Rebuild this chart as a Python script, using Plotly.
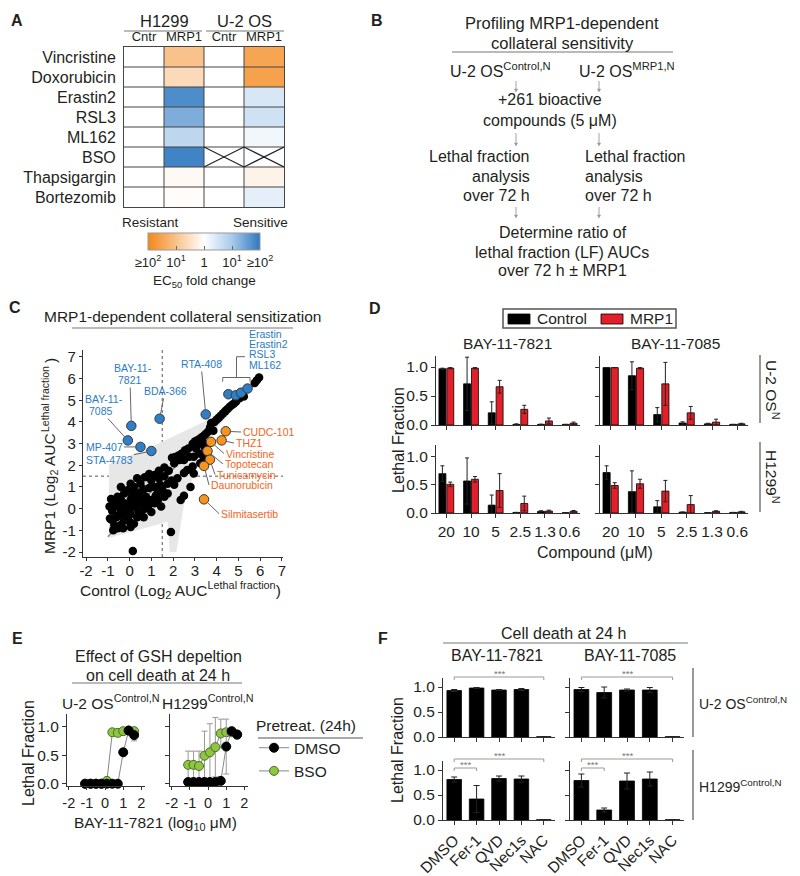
import plotly.graph_objects as go

W, H = 800, 876
FONT = "Liberation Sans, Arial, Helvetica, sans-serif"
INK = "#231f20"
AXC = "#333333"
BLUE_TXT = "#2b7bc4"
ORANGE_TXT = "#f26522"
BLUE_DOT = "#2f7fc8"
ORANGE_DOT = "#f7941d"
GREEN_DOT = "#8dc63f"
RED_BAR = "#e3202a"

# ===================== DATA =====================
# ---- Panel A : EC50 fold change (log10, negative = resistant, positive = sensitive)
a_drugs = ["Vincristine", "Doxorubicin", "Erastin2", "RSL3", "ML162", "BSO", "Thapsigargin", "Bortezomib"]
a_cols = ["Cntr", "MRP1", "Cntr", "MRP1"]
a_lines = ["H1299", "U-2 OS"]
a_h1299_cntr = [0, 0, 0, 0, 0, 0, 0, 0]
a_h1299_mrp1 = [-1.0, -0.6, 1.75, 1.35, 0.75, 1.85, -0.1, -0.05]
a_u2os_cntr = [0, 0, 0, 0, 0, None, 0, 0]
a_u2os_mrp1 = [-1.5, -1.55, 0.45, 0.55, 0.15, None, -0.2, 0.3]
a_cb_vals = [-2, -1, 0, 1, 2]
a_cb_text = ["≥10<sup>2</sup>", "10<sup>1</sup>", "1", "10<sup>1</sup>", "≥10<sup>2</sup>"]

# ---- Panel C : log2 AUC (control vs MRP1)
c_bg_ctrl = [5.95, 5.85, 5.75, 5.25, 5.05, 4.9, 4.8, 4.7, 4.6, 4.5, 4.4, 4.3, 4.2, 4.1, 4.0, 3.9, 3.75, 3.7,
             3.85, 3.6, 3.5, 3.4, 3.3, 3.2, 3.1, 3.0, 2.9, 3.2, 3.35, 3.45, 3.05, 2.7, 2.55, 2.4, 2.25, 2.1,
             1.95, 2.05, 2.3, 2.5, 2.75, 2.95, 3.2, 3.4, 3.25, 2.9, 2.65, 2.95, 2.5, 2.8, 2.5, 2.35, 1.9, 0.15,
             2.2, 2.05, 1.93,
             1.6, 1.8, 1.6, 1.35, 1.35, 1.15, 1.0, 0.9, 0.7, 0.5, 0.35, 0.2, 0.05, -0.1, -0.25, -0.4, -0.55,
             -0.7, -0.85, -0.92, -0.8, -0.6, -0.85, -0.7, -0.55, -0.4, -0.25, -0.1, 0.05, 0.2, 0.35, 0.5, 0.65,
             0.85, 1.0, 1.15, 1.3, 1.45, 1.6, 1.75, 1.0, 0.75, 0.6, 0.35, 0.2, 0.05, -0.1, -0.25, -0.4, -0.55,
             -0.4, 0.2, 0.45, 0.65, 0.9, 1.15, 1.3, 1.5, 1.75, -0.25, 0.05, -0.1, 0.3, 0.5, 0.8, 0.1, -0.5,
             0.4, 0.7, 1.2, 1.4, -0.7, 0.0, -0.3, -0.9, -0.75]
c_bg_mrp1 = [6.05, 5.92, 5.8, 5.18, 5.1, 4.95, 4.85, 4.78, 4.7, 4.6, 4.5, 4.4, 4.3, 4.2, 4.1, 4.0, 3.95, 3.75,
             3.6, 3.55, 3.45, 3.35, 3.28, 3.2, 3.15, 3.1, 3.0, 3.0, 3.08, 2.85, 2.78, 2.78, 2.7, 2.55, 2.45, 2.38,
             2.35, 2.1, 2.25, 2.25, 2.4, 2.4, 2.55, 2.4, 2.1, 1.95, 1.78, 1.62, 1.65, 1.0, 0.6, 0.4, -1.08, -1.95,
             1.4, 1.1, 1.3,
             1.5, 1.75, 1.9, 1.75, 1.4, 1.55, 1.3, 1.6, 1.45, 1.15, 1.4, 1.0, 1.15, 0.85, 0.7, 1.0, 0.55,
             0.4, 0.45, 0.1, -0.1, -0.4, -0.5, -0.75, -0.9, -0.75, -0.55, -0.4, -0.25, -0.7, -0.4, -0.15, -0.4,
             0.1, -0.15, 0.25, 0.4, 0.1, 0.55, 0.7, 0.4, 0.55, 0.25, 0.4, 0.1, 0.4, 0.1, 0.25, -0.1, 0.1,
             0.4, 0.7, 0.75, 0.9, 0.95, 1.0, 0.75, 0.9, 1.15, -0.25, -0.85, -0.1, 0.15, 0.5, 0.3, 0.55, -0.3,
             -0.1, 0.0, 0.6, 1.1, 0.15, -0.6, -0.9, -0.45, -1.0]
c_hit_names = ["BAY-11-7821", "BAY-11-7085", "MP-407", "STA-4783", "BDA-366", "RTA-408", "Erastin",
               "Erastin2", "RSL3", "ML162", "CUDC-101", "THZ1", "Vincristine", "Topotecan", "Tunicamycin",
               "Daunorubicin", "Silmitasertib"]
c_hit_ctrl = [0.08, -0.08, 0.5, 1.0, 1.38, 3.5, 4.54, 4.88, 5.12, 5.42, 4.42, 4.23, 3.74, 3.58, 3.69, 3.42, 3.42]
c_hit_mrp1 = [3.82, 3.15, 2.85, 2.66, 4.15, 4.35, 5.28, 5.23, 5.35, 5.54, 3.57, 3.15, 3.08, 2.66, 2.26, 1.97, 0.43]
c_hit_kind = ["sens", "sens", "sens", "sens", "sens", "sens", "sens", "sens", "sens", "sens",
              "res", "res", "res", "res", "res", "res", "res"]
c_band_x = [-0.95, -0.95, 1.3, 3.4, 4.5, 5.8, 5.8, 4.0, 3.1, 2.5, 2.15, 1.85, 1.75, -0.95]
c_band_y = [-1.35, 2.05, 3.0, 4.0, 4.7, 5.9, 5.7, 3.7, 2.0, 0.2, -2.0, -2.0, -0.6, -1.35]
c_fit_x = [-1.0, 6.0]
c_fit_y = [-1.3, 6.0]
c_cut = 1.5
c_ticks = [-2, -1, 0, 1, 2, 3, 4, 5, 6, 7]
c_ticktext = ["-2", "-1", "0", "1", "2", "3", "4", "5", "6", "7"]

# ---- Panel D : lethal fraction vs compound dose
d_doses = ["20", "10", "5", "2.5", "1.3", "0.6"]
d_u2os_7821_ctrl = [0.97, 0.71, 0.21, 0.01, 0.01, 0.01]
d_u2os_7821_ctrl_err = [0.01, 0.46, 0.19, 0.01, 0.005, 0.0]
d_u2os_7821_mrp1 = [0.98, 0.98, 0.66, 0.27, 0.07, 0.03]
d_u2os_7821_mrp1_err = [0.01, 0.01, 0.11, 0.07, 0.05, 0.02]
d_u2os_7085_ctrl = [0.99, 0.85, 0.18, 0.035, 0.02, 0.01]
d_u2os_7085_ctrl_err = [0.0, 0.24, 0.12, 0.02, 0.01, 0.0]
d_u2os_7085_mrp1 = [0.99, 0.98, 0.71, 0.21, 0.05, 0.02]
d_u2os_7085_mrp1_err = [0.0, 0.01, 0.37, 0.11, 0.05, 0.01]
d_h1299_7821_ctrl = [0.70, 0.57, 0.14, 0.01, 0.03, 0.005]
d_h1299_7821_ctrl_err = [0.14, 0.41, 0.18, 0.0, 0.01, 0.0]
d_h1299_7821_mrp1 = [0.51, 0.60, 0.40, 0.17, 0.035, 0.03]
d_h1299_7821_mrp1_err = [0.04, 0.05, 0.30, 0.13, 0.015, 0.015]
d_h1299_7085_ctrl = [0.72, 0.38, 0.11, 0.015, 0.005, 0.01]
d_h1299_7085_ctrl_err = [0.12, 0.37, 0.11, 0.0, 0.0, 0.0]
d_h1299_7085_mrp1 = [0.49, 0.52, 0.39, 0.15, 0.03, 0.02]
d_h1299_7085_mrp1_err = [0.05, 0.08, 0.19, 0.16, 0.01, 0.01]
d_series = ["Control", "MRP1"]

# ---- Panel E : GSH depletion dose response
e_log_dose = [-1.1, -0.8, -0.5, -0.2, 0.1, 0.4, 0.7, 1.0, 1.3, 1.6]
e_u2os_dmso = [0.0, 0.0, 0.0, 0.0, 0.0, 0.0, 0.0, 0.55, 0.93, 0.85]
e_u2os_dmso_err = [0.0, 0.0, 0.0, 0.0, 0.0, 0.0, 0.0, 0.02, 0.03, 0.10]
e_u2os_bso = [0.0, 0.0, 0.0, 0.0, 0.05, 0.90, 0.89, 0.92, 0.93, 0.92]
e_u2os_bso_err = [0.0, 0.0, 0.0, 0.0, 0.02, 0.02, 0.02, 0.03, 0.04, 0.05]
e_h1299_dmso = [0.03, 0.03, 0.03, 0.03, 0.03, 0.03, 0.05, 0.65, 0.92, 0.86]
e_h1299_dmso_err = [0.01, 0.01, 0.01, 0.01, 0.01, 0.01, 0.02, 0.48, 0.05, 0.07]
e_h1299_bso = [0.33, 0.33, 0.31, 0.49, 0.55, 0.64, 0.88, 0.90, 0.90, 0.86]
e_h1299_bso_err = [0.24, 0.24, 0.26, 0.43, 0.50, 0.52, 0.25, 0.06, 0.05, 0.07]
e_ticks = [-2, -1, 0, 1, 2]
e_ticktext = ["-2", "-1", "0", "1", "2"]

# ---- Panel F : cell death at 24 h with inhibitors
f_treat = ["DMSO", "Fer-1", "QVD", "Nec1s", "NAC"]
f_u2os_7821 = [0.93, 0.98, 0.94, 0.95, 0.005]
f_u2os_7821_err = [0.02, 0.01, 0.01, 0.02, 0.0]
f_u2os_7085 = [0.95, 0.89, 0.94, 0.94, 0.005]
f_u2os_7085_err = [0.04, 0.11, 0.02, 0.05, 0.0]
f_h1299_7821 = [0.81, 0.42, 0.83, 0.82, 0.005]
f_h1299_7821_err = [0.05, 0.27, 0.05, 0.06, 0.0]
f_h1299_7085 = [0.79, 0.20, 0.78, 0.82, 0.005]
f_h1299_7085_err = [0.13, 0.04, 0.16, 0.14, 0.0]


# ===================== HELPERS =====================
def PX(x):
    return x / W


def PY(y):
    return 1 - y / H


def DX(a, b):
    return [a / W, b / W]


def DY(top, bot):
    return [1 - bot / H, 1 - top / H]


def lin_axis(domain, rng, anchor, **kw):
    d = dict(domain=domain, range=rng, anchor=anchor, showline=True, linecolor=AXC, linewidth=1.2,
             ticks="outside", ticklen=4, tickwidth=1.2, tickcolor=AXC, showgrid=False, zeroline=False,
             automargin=False, tickangle=0, tickfont=dict(size=15.5, color=INK, family=FONT), fixedrange=True)
    d.update(kw)
    return d


annotations = []
shapes = []


def text(x, y, s, size=15.5, color=INK, xanchor="center", yanchor="middle", angle=0):
    annotations.append(dict(x=PX(x), y=PY(y), xref="paper", yref="paper", text=s, showarrow=False,
                            font=dict(size=size, color=color, family=FONT), xanchor=xanchor,
                            yanchor=yanchor, textangle=angle))


def pline(x0, y0, x1, y1, color="#666666", width=1.2, dash="solid"):
    shapes.append(dict(type="line", xref="paper", yref="paper", x0=PX(x0), y0=PY(y0), x1=PX(x1), y1=PY(y1),
                       line=dict(color=color, width=width, dash=dash)))


def prect(x0, y0, x1, y1, fill, color="#000", width=0.8):
    shapes.append(dict(type="rect", xref="paper", yref="paper", x0=PX(x0), y0=PY(y1), x1=PX(x1), y1=PY(y0),
                       fillcolor=fill, line=dict(color=color, width=width)))


def down_arrow(x, y0, y1):
    pline(x, y0, x, y1 - 2, "#999", 0.9)
    shapes.append(dict(type="path", xref="paper", yref="paper",
                       path="M {a},{b} L {c},{b} L {d},{e} Z".format(a=PX(x - 1.6), b=PY(y1 - 3), c=PX(x + 1.6),
                                                                   d=PX(x), e=PY(y1)),
                       fillcolor="#999", line=dict(color="#999", width=0.5)))


fig = go.Figure()
layout_axes = {}

# ===================== PANEL A =====================
a_z = [[a_h1299_cntr[i], a_h1299_mrp1[i], a_u2os_cntr[i], a_u2os_mrp1[i]] for i in range(len(a_drugs))]
a_cs = [[0, "#f3871a"], [0.25, "#f9c28b"], [0.5, "#ffffff"], [0.75, "#a8caea"], [1, "#2f78bf"]]
fig.add_trace(go.Heatmap(
    z=a_z, x=list(range(len(a_cols))), y=list(range(len(a_drugs))), colorscale=a_cs, zmin=-2, zmax=2,
    hoverongaps=False, xaxis="x", yaxis="y",
    colorbar=dict(orientation="h", x=PX(204), xanchor="center", y=PY(233), yanchor="top",
                  lenmode="pixels", len=112, thicknessmode="pixels", thickness=17, xpad=0, ypad=0,
                  tickvals=a_cb_vals, ticktext=a_cb_text, ticks="inside", ticklen=4, tickcolor="#666",
                  outlinecolor="#999", outlinewidth=1, tickfont=dict(size=13, color=INK, family=FONT))))
layout_axes["xaxis"] = dict(domain=DX(124, 284), range=[-0.5, 3.5], side="top", tickvals=list(range(4)),
                            ticktext=a_cols, ticks="", showline=True, mirror=True, linecolor="#444",
                            linewidth=1, showgrid=False, zeroline=False, anchor="y", fixedrange=True,
                            automargin=False, ticklabelstandoff=0, tickfont=dict(size=13, color=INK, family=FONT))
layout_axes["yaxis"] = dict(domain=DY(47, 207), range=[7.5, -0.5], tickvals=list(range(8)), ticktext=a_drugs,
                            ticks="", showline=True, mirror=True, linecolor="#444", linewidth=1,
                            showgrid=False, zeroline=False, anchor="x", fixedrange=True, automargin=False,
                            ticklabelstandoff=4, tickfont=dict(size=16, color=INK, family=FONT))
for k in [0.5, 1.5, 2.5]:
    shapes.append(dict(type="line", xref="x", yref="y", x0=k, x1=k, y0=-0.5, y1=7.5,
                       line=dict(color="#444", width=1)))
for k in [0.5, 1.5, 2.5, 3.5, 4.5, 5.5, 6.5]:
    shapes.append(dict(type="line", xref="x", yref="y", x0=-0.5, x1=3.5, y0=k, y1=k,
                       line=dict(color="#444", width=1)))
bso_row = a_drugs.index("BSO")
for col in [2, 3]:
    shapes.append(dict(type="line", xref="x", yref="y", x0=col - 0.5, x1=col + 0.5, y0=bso_row - 0.5,
                       y1=bso_row + 0.5, line=dict(color="#222", width=1.2)))
    shapes.append(dict(type="line", xref="x", yref="y", x0=col - 0.5, x1=col + 0.5, y0=bso_row + 0.5,
                       y1=bso_row - 0.5, line=dict(color="#222", width=1.2)))
text(164, 21, a_lines[0], 16.5)
text(244, 21, a_lines[1], 16.5)
pline(124, 31, 202, 31, "#777")
pline(206, 31, 284, 31, "#777")
text(150, 223, "Resistant", 13.5)
text(260, 223, "Sensitive", 13.5)
text(204, 281, "EC<sub>50</sub> fold change", 13.5)

# ===================== PANEL B =====================
text(562, 23, "Profiling MRP1-dependent", 16.5)
text(562, 43, "collateral sensitivity", 16.5)
pline(452, 52, 673, 52, "#777")
text(500, 70, "U-2 OS<sup>Control,N</sup>", 16)
text(627, 70, "U-2 OS<sup>MRP1,N</sup>", 16)
down_arrow(516, 81, 92)
down_arrow(599, 81, 92)
text(550, 100, "+261 bioactive", 16)
text(550, 120, "compounds (5 μM)", 16)
down_arrow(516, 133, 146)
down_arrow(599, 133, 146)
for i, s in enumerate(["Lethal fraction", "analysis", "over 72 h"]):
    text(532, 157 + i * 19.5, s, 16, xanchor="right")
    text(583, 157 + i * 19.5, s, 16, xanchor="left")
down_arrow(516, 207, 218)
down_arrow(599, 207, 218)
text(563, 232, "Determine ratio of", 16)
text(562, 252, "lethal fraction (LF) AUCs", 16)
text(562, 271, "over 72 h ± MRP1", 16)

# ===================== PANEL C =====================
C_PX = (83, 283)
C_PY = (350, 557)
C_XR = [-2.14, 7.05]
C_YR = [-2.23, 7.32]


def cx(px):
    return C_XR[0] + (px - C_PX[0]) / (C_PX[1] - C_PX[0]) * (C_XR[1] - C_XR[0])


def cy(py):
    return C_YR[0] + (C_PY[1] - py) / (C_PY[1] - C_PY[0]) * (C_YR[1] - C_YR[0])


fig.add_trace(go.Scatter(x=c_band_x, y=c_band_y, fill="toself", fillcolor="#e7e7e7", mode="lines",
                         line=dict(width=0), hoverinfo="skip", showlegend=False, xaxis="x2", yaxis="y2"))
fig.add_trace(go.Scatter(x=c_fit_x, y=c_fit_y, mode="lines", line=dict(color="#888", width=1.5),
                         hoverinfo="skip", showlegend=False, xaxis="x2", yaxis="y2"))
fig.add_trace(go.Scatter(x=c_bg_ctrl, y=c_bg_mrp1, mode="markers", cliponaxis=False,
                         marker=dict(size=8.5, color="#000000", line=dict(width=0)),
                         showlegend=False, xaxis="x2", yaxis="y2"))
for kind, col in [("sens", BLUE_DOT), ("res", ORANGE_DOT)]:
    idx = [i for i, k in enumerate(c_hit_kind) if k == kind]
    fig.add_trace(go.Scatter(x=[c_hit_ctrl[i] for i in idx], y=[c_hit_mrp1[i] for i in idx],
                             mode="markers", cliponaxis=False, text=[c_hit_names[i] for i in idx],
                             marker=dict(size=9.5, color=col, line=dict(width=1, color="#3a3a3a")),
                             showlegend=False, xaxis="x2", yaxis="y2"))
shapes.append(dict(type="line", xref="x2", yref="y2", x0=c_cut, x1=c_cut, y0=C_YR[0], y1=C_YR[1],
                   line=dict(color="#555", width=1, dash="dot"), layer="below"))
shapes.append(dict(type="line", xref="x2", yref="y2", x0=C_XR[0], x1=C_XR[1], y0=c_cut, y1=c_cut,
                   line=dict(color="#555", width=1, dash="dot"), layer="below"))
layout_axes["xaxis2"] = lin_axis(DX(*C_PX), C_XR, "y2", tickvals=c_ticks, ticktext=c_ticktext, ticklen=3,
                                 ticklabelstandoff=-3, tickfont=dict(size=15, color=INK, family=FONT))
layout_axes["yaxis2"] = lin_axis(DY(*C_PY), C_YR, "x2", tickvals=c_ticks, ticktext=c_ticktext, ticklen=3,
                                 tickfont=dict(size=15, color=INK, family=FONT))

# label placement (pixel positions of label text), one row per text line
c_labels = [
    ("BAY-11-7821", "BAY-11-", 133, 368, "center", False),
    ("BAY-11-7821", "7821", 130, 380, "center", True),
    ("BAY-11-7085", "BAY-11-", 104, 399, "center", False),
    ("BAY-11-7085", "7085", 101, 411, "center", True),
    ("MP-407", "MP-407", 104, 447, "center", True),
    ("STA-4783", "STA-4783", 109, 460, "center", True),
    ("BDA-366", "BDA-366", 165, 391, "center", True),
    ("RTA-408", "RTA-408", 201, 364, "center", True),
    ("Erastin", "Erastin", 247, 334, "left", False),
    ("Erastin2", "Erastin2", 247, 344.2, "left", False),
    ("RSL3", "RSL3", 247, 354.4, "left", False),
    ("ML162", "ML162", 247, 364.6, "left", False),
    ("CUDC-101", "CUDC-101", 241, 432, "left", True),
    ("THZ1", "THZ1", 234, 443, "left", True),
    ("Vincristine", "Vincristine", 224, 453.5, "left", True),
    ("Topotecan", "Topotecan", 223, 464, "left", True),
    ("Tunicamycin", "Tunicamycin", 215, 474.5, "left", True),
    ("Daunorubicin", "Daunorubicin", 209, 485, "left", True),
    ("Silmitasertib", "Silmitasertib", 219, 513.5, "left", True),
]
for name, s, lx, ly, anch, arrow in c_labels:
    i = c_hit_names.index(name)
    col = BLUE_TXT if c_hit_kind[i] == "sens" else ORANGE_TXT
    if arrow:
        annotations.append(dict(x=c_hit_ctrl[i], y=c_hit_mrp1[i], xref="x2", yref="y2", ax=cx(lx), ay=cy(ly),
                                axref="x2", ayref="y2", text=s, showarrow=True, arrowhead=0, arrowwidth=1,
                                arrowcolor="#666", standoff=4.5, xanchor=anch, yanchor="middle",
                                font=dict(size=10.5, color=col, family=FONT)))
    else:
        text(lx, ly, s, 10.5, color=col, xanchor=anch)
# bracket for the erastin-like group
shapes.append(dict(type="path", xref="x2", yref="y2",
                   path="M {a},{b} L {a},{c} L {d},{c} L {d},{b} M {e},{c} L {e},{f} L {g},{f}".format(
                       a=cx(222.7), b=cy(381.7), c=cy(377.5), d=cx(250), e=cx(236.5), f=cy(356.7), g=cx(245)),
                   line=dict(color="#666", width=1)))
text(182, 316, "MRP1-dependent collateral sensitization", 15.5)
pline(72, 328, 293, 328, "#777")
# y title split in pieces (rotated superscripts misplace otherwise)
text(50, 494, "MRP1 (Log<sub>2</sub> AUC", 15.5, angle=-90)
text(45, 399, "Lethal fraction", 10.5, angle=-90)
text(50, 361, ")", 15.5, angle=-90)
text(180, 590, "Control (Log<sub>2</sub> AUC<sup>Lethal fraction</sup>)", 15.5)

# ===================== PANEL D =====================
d_sets = [
    ("x3", "y3", d_u2os_7821_ctrl, d_u2os_7821_ctrl_err, d_u2os_7821_mrp1, d_u2os_7821_mrp1_err),
    ("x4", "y4", d_u2os_7085_ctrl, d_u2os_7085_ctrl_err, d_u2os_7085_mrp1, d_u2os_7085_mrp1_err),
    ("x5", "y5", d_h1299_7821_ctrl, d_h1299_7821_ctrl_err, d_h1299_7821_mrp1, d_h1299_7821_mrp1_err),
    ("x6", "y6", d_h1299_7085_ctrl, d_h1299_7085_ctrl_err, d_h1299_7085_mrp1, d_h1299_7085_mrp1_err),
]
d_x = list(range(len(d_doses)))
for xa, ya, cv, ce, mv, me in d_sets:
    fig.add_trace(go.Bar(x=d_x, y=cv, name=d_series[0], marker=dict(color="#000", line=dict(color="#000", width=0.8)),
                         error_y=dict(type="data", array=ce, color="#222", thickness=1, width=2),
                         showlegend=False, xaxis=xa, yaxis=ya))
    fig.add_trace(go.Bar(x=d_x, y=mv, name=d_series[1], marker=dict(color=RED_BAR, line=dict(color="#000", width=0.8)),
                         error_y=dict(type="data", array=me, color="#222", thickness=1, width=2),
                         showlegend=False, xaxis=xa, yaxis=ya))
d_yt = dict(tickvals=[0, 0.5, 1.0], ticktext=["0.0", "0.5", "1.0"])
layout_axes["xaxis3"] = lin_axis(DX(436, 580), [-0.42, 5.42], "y3", tickvals=d_x, showticklabels=False)
layout_axes["yaxis3"] = lin_axis(DY(356, 425), [0, 1.19], "x3", **d_yt)
layout_axes["xaxis4"] = lin_axis(DX(600, 748), [-0.42, 5.42], "y4", tickvals=d_x, showticklabels=False)
layout_axes["yaxis4"] = lin_axis(DY(356, 425), [0, 1.19], "x4", showticklabels=False, **d_yt)
layout_axes["xaxis5"] = lin_axis(DX(436, 580), [-0.42, 5.42], "y5", tickvals=d_x, ticktext=d_doses)
layout_axes["yaxis5"] = lin_axis(DY(445, 513), [0, 1.21], "x5", **d_yt)
layout_axes["xaxis6"] = lin_axis(DX(600, 748), [-0.42, 5.42], "y6", tickvals=d_x, ticktext=d_doses)
layout_axes["yaxis6"] = lin_axis(DY(445, 513), [0, 1.21], "x6", showticklabels=False, **d_yt)
# legend box for D
prect(503, 309, 676, 328, "rgba(0,0,0,0)", "#555", 1.5)
prect(508, 314, 530, 324, "#000", "#000", 0.8)
text(535, 319, d_series[0], 15.5, xanchor="left")
prect(601, 314, 623, 324, RED_BAR, "#000", 0.8)
text(628, 319, d_series[1], 15.5, xanchor="left")
text(507, 343, "BAY-11-7821", 15.5)
text(675, 343, "BAY-11-7085", 15.5)
text(398, 440, "Lethal Fraction", 16, angle=-90)
text(595, 552, "Compound (μM)", 16)
pline(760, 355, 760, 423, "#555")
pline(760, 442, 760, 512, "#555")
text(772, 390, "U-2 OS<sup>N</sup>", 15.5, angle=90)
text(772, 477, "H1299<sup>N</sup>", 15.5, angle=90)

# ===================== PANEL E =====================
e_sets = [("x7", "y7", e_u2os_dmso, e_u2os_dmso_err, e_u2os_bso, e_u2os_bso_err, True),
          ("x8", "y8", e_h1299_dmso, e_h1299_dmso_err, e_h1299_bso, e_h1299_bso_err, False)]
for xa, ya, dv, de, bv, be, leg in e_sets:
    fig.add_trace(go.Scatter(x=e_log_dose, y=bv, name="BSO", mode="lines+markers", cliponaxis=False,
                             line=dict(color="#888", width=1),
                             marker=dict(size=9, color=GREEN_DOT, line=dict(color="#4f6b2c", width=1)),
                             error_y=dict(type="data", array=be, color="#999", thickness=1, width=3),
                             showlegend=leg, legendrank=2, xaxis=xa, yaxis=ya))
    fig.add_trace(go.Scatter(x=e_log_dose, y=dv, name="DMSO", mode="lines+markers", cliponaxis=False,
                             line=dict(color="#888", width=1),
                             marker=dict(size=9, color="#000", line=dict(color="#000", width=1)),
                             error_y=dict(type="data", array=de, color="#999", thickness=1, width=3),
                             showlegend=leg, legendrank=1, xaxis=xa, yaxis=ya))
e_xt = dict(tickvals=e_ticks, ticktext=e_ticktext, tickfont=dict(size=14.5, color=INK, family=FONT), ticklen=3)
layout_axes["xaxis7"] = lin_axis(DX(67, 145), [-2.1, 2.2], "y7", **e_xt)
layout_axes["yaxis7"] = lin_axis(DY(714, 786), [-0.04, 1.22], "x7", **d_yt)
layout_axes["xaxis8"] = lin_axis(DX(170, 248), [-2.1, 2.2], "y8", **e_xt)
layout_axes["yaxis8"] = lin_axis(DY(714, 786), [-0.04, 1.22], "x8", showticklabels=False, **d_yt)
text(158, 656, "Effect of GSH depeltion", 16)
text(158, 675, "on cell death at 24 h", 16)
pline(72, 683, 242, 683, "#777")
text(111, 702, "U-2 OS<sup>Control,N</sup>", 15.5)
text(208, 702, "H1299<sup>Control,N</sup>", 15.5)
text(28, 753, "Lethal Fraction", 16, angle=-90)
text(155, 823, "BAY-11-7821 (log<sub>10</sub> μM)", 15.5)
pline(258, 738, 363, 738, "#555")

# ===================== PANEL F =====================
f_sets = [("x9", "y9", f_u2os_7821, f_u2os_7821_err), ("x10", "y10", f_u2os_7085, f_u2os_7085_err),
          ("x11", "y11", f_h1299_7821, f_h1299_7821_err), ("x12", "y12", f_h1299_7085, f_h1299_7085_err)]
f_x = list(range(len(f_treat)))
for xa, ya, v, e in f_sets:
    fig.add_trace(go.Bar(x=f_x, y=v, width=0.65, marker=dict(color="#000", line=dict(color="#000", width=0.8)),
                         error_y=dict(type="data", array=e, color="#222", thickness=1, width=3),
                         showlegend=False, xaxis=xa, yaxis=ya))
layout_axes["xaxis9"] = lin_axis(DX(443, 555), [-0.5, 4.5], "y9", tickvals=f_x, showticklabels=False)
layout_axes["yaxis9"] = lin_axis(DY(678, 737), [0, 1.18], "x9", **d_yt)
layout_axes["xaxis10"] = lin_axis(DX(570, 684), [-0.5, 4.5], "y10", tickvals=f_x, showticklabels=False)
layout_axes["yaxis10"] = lin_axis(DY(678, 737), [0, 1.18], "x10", showticklabels=False, **d_yt)
layout_axes["xaxis11"] = lin_axis(DX(443, 555), [-0.5, 4.5], "y11", tickvals=f_x, ticktext=f_treat, tickangle=-45)
layout_axes["yaxis11"] = lin_axis(DY(761, 820), [0, 1.18], "x11", **d_yt)
layout_axes["xaxis12"] = lin_axis(DX(570, 684), [-0.5, 4.5], "y12", tickvals=f_x, ticktext=f_treat, tickangle=-45)
layout_axes["yaxis12"] = lin_axis(DY(761, 820), [0, 1.18], "x12", showticklabels=False, **d_yt)


def bracket(xa, i0, i1, ypx):
    for (a, b, c, d) in [(i0, ypx, i1, ypx), (i0, ypx, i0, ypx + 3), (i1, ypx, i1, ypx + 3)]:
        shapes.append(dict(type="line", xref=xa, yref="paper", x0=a, x1=c, y0=PY(b), y1=PY(d),
                           line=dict(color="#999", width=1)))
    annotations.append(dict(x=(i0 + i1) / 2, y=PY(ypx - 4), xref=xa, yref="paper", text="***",
                            showarrow=False, xanchor="center", yanchor="middle",
                            font=dict(size=9.5, color="#777", family=FONT)))


for xa in ["x9", "x10"]:
    bracket(xa, 0, 4, 677)
for xa in ["x11", "x12"]:
    bracket(xa, 0, 4, 759)
    bracket(xa, 0, 1, 768)
text(563, 633, "Cell death at 24 h", 16)
pline(443, 643, 688, 643, "#777")
text(497, 655, "BAY-11-7821", 16)
text(630, 655, "BAY-11-7085", 16)
text(397, 750, "Lethal Fraction", 16, angle=-90)
pline(693, 668, 693, 737, "#555")
pline(693, 750, 693, 820, "#555")
text(697, 703, "U-2 OS<sup>Control,N</sup>", 14, xanchor="left")
text(697, 786, "H1299<sup>Control,N</sup>", 14, xanchor="left")

# ===================== PANEL LETTERS =====================
for letter, x, y in [("A", 17, 21), ("B", 377, 21), ("C", 15, 308), ("D", 375, 309), ("E", 17, 638), ("F", 383, 638)]:
    text(x, y, "<b>" + letter + "</b>", 16)

fig.update_layout(
    template="none",
    width=W, height=H, autosize=False, margin=dict(l=0, r=0, t=0, b=0, pad=0, autoexpand=False),
    paper_bgcolor="white", plot_bgcolor="rgba(0,0,0,0)",
    font=dict(family=FONT, color=INK, size=15),
    barmode="group", bargap=0.36, bargroupgap=0.12,
    legend=dict(x=PX(254), y=PY(711), xanchor="left", yanchor="top", orientation="v",
                title=dict(text="Pretreat. (24h)", font=dict(size=15.5, family=FONT)),
                font=dict(size=15.5, family=FONT), bgcolor="rgba(0,0,0,0)", itemwidth=30, tracegroupgap=0),
    annotations=annotations, shapes=shapes,
    **layout_axes,
)

fig.write_html("out.html", config={"displayModeBar": False},
               post_script="document.body.style.margin='0px';document.body.style.padding='0px';")
